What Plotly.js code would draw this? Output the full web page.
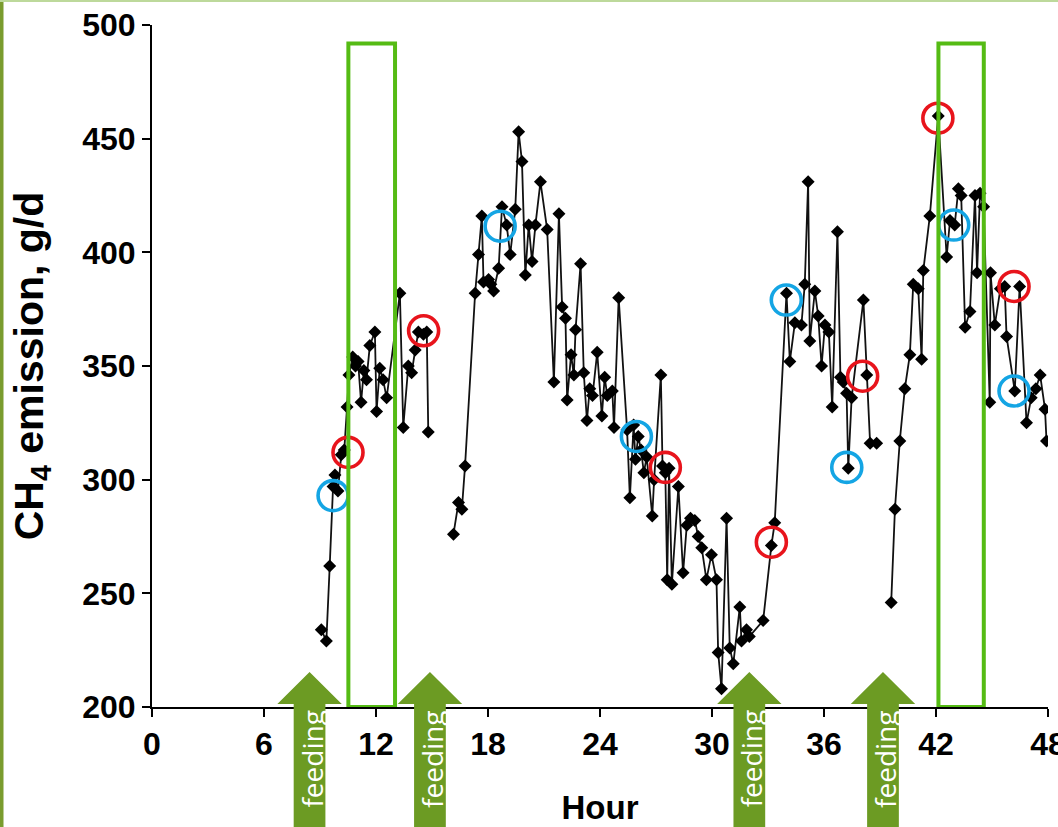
<!DOCTYPE html>
<html>
<head>
<meta charset="utf-8">
<script src="https://cdn.plot.ly/plotly-3.0.1.min.js"></script>
<style>html,body{margin:0;padding:0;background:#fff;}#chart{width:1058px;height:827px;}</style>
</head>
<body>
<div id="chart"></div>
<script>
// ---- data ----
const hours = [
  9.07, 9.34, 9.52, 9.70, 9.80, 9.96, 10.14, 10.30, 10.45, 10.55, 10.75, 10.90, 11.04, 11.20, 11.35, 11.49, 11.67, 11.94, 12.03, 12.20, 12.38, 12.57,
  13.28, 13.46, 13.73, 13.91, 14.10, 14.27, 14.54, 14.72, 14.80, null,
  16.15, 16.42, 16.60, 16.77, 17.31, 17.49, 17.67, 17.76, 18.03, 18.15, 18.30, 18.57, 18.75, 19.00, 19.19, 19.46, 19.64, 19.82,
  20.00, 20.18, 20.36, 20.54, 20.81, 21.17, 21.53, 21.80, 21.97, 22.15, 22.24, 22.45, 22.60, 22.69, 22.96, 23.13, 23.30, 23.45,
  23.60, 23.85, 24.10, 24.25, 24.39, 24.66, 24.75, 25.00, 25.45, 25.60, 25.80, 25.90, 26.05, 26.20, 26.35, 26.50, 26.80, 26.90,
  27.26, 27.35, 27.50, 27.60, 27.70, 27.85, 28.20, 28.45, 28.65, 28.85, 29.08, 29.26, 29.45, 29.70, 29.97, 30.24, 30.33, 30.51,
  30.78, 30.95, 31.14, 31.49, 31.58, 31.85, 32.00, 32.74, 33.18, 33.36, 33.99, 34.17, 34.44, 34.79, 34.97, 35.15, 35.24, 35.51,
  35.69, 35.87, 36.05, 36.26, 36.44, 36.72, 36.88, 37.03, 37.21, 37.30, 37.48, 38.11, 38.29, 38.47, 38.82, null,
  39.60, 39.80, 40.06, 40.33, 40.60, 40.78, 41.05, 41.23, 41.32, 41.67, 42.12, 42.57, 42.75, 43.00, 43.20, 43.35, 43.56, 43.82,
  44.09, 44.20, 44.36, 44.55, 44.88, 44.92, 45.15, 45.45, 45.68, 45.78, 46.22, 46.48, 46.85, 47.10, 47.35, 47.58, 47.84, 47.92
];
const ch4 = [
  234, 229, 262, 297, 302, 295, 311, 313, 332, 346, 354, 350, 352, 334, 348, 344, 359, 365, 330, 349, 344, 336,
  382, 323, 350, 347, 357, 365, 364, 365, 321, null,
  276, 290, 287, 306, 382, 399, 416, 387, 388, 386, 383, 393, 420, 412, 399, 419, 453, 440,
  390, 412, 396, 412, 431, 410, 343, 417, 376, 371, 335, 355, 346, 366, 395, 347, 326, 340,
  337, 356, 328, 345, 337, 339, 323, 380, 322, 292, 324, 309, 319, 313, 303, 310, 284, 300,
  346, 306, 303, 256, 305, 254, 297, 259, 280, 283, 282, 275, 270, 256, 267, 256, 224, 208,
  283, 226, 219, 244, 229, 234, 231, 238, 271, 281, 382, 352, 369, 368, 386, 431, 361, 383,
  372, 350, 368, 365, 332, 409, 345, 343, 338, 305, 336, 379, 346, 316, 316, null,
  246, 287, 317, 340, 355, 386, 384, 353, 392, 416, 460, 398, 414, 412, 428, 425, 367, 374,
  425, 391, 426, 420, 334, 391, 368, 384, 385, 363, 339, 385, 325, 336, 340, 346, 331, 317
];
const redHours  = [10.50, 14.55, 27.50, 33.18, 38.07, 42.10, 46.18];
const redValues = [312, 365.5, 305.4, 272.5, 345.5, 459, 385];
const blueHours  = [9.70, 18.65, 25.95, 33.98, 37.22, 42.95, 46.18];
const blueValues = [293, 411.5, 319, 379, 305.4, 412, 339];
const boxStart = [10.52, 42.13];
const boxEnd   = [13.02, 44.56];
const boxTop   = 491.9;
const feedingHours = [8.44, 14.89, 32.00, 39.16];
const feedingLabel = "feeding";
const xTicks = [0, 6, 12, 18, 24, 30, 36, 42, 48];
const yTicks = [200, 250, 300, 350, 400, 450, 500];

// ---- styling ----
const FONT = "Liberation Sans, Arial, sans-serif";
const OLIVE = "#6c9b23";
const BOXGREEN = "#55bb14";
const W = 1058, H = 827, ML = 152, MR = 10, MT = 25, MB = 120;
const plotW = W - ML - MR, plotH = H - MT - MB;
const px2paperX = p => (p - ML) / plotW;
const px2paperY = p => (H - MB - p) / plotH;

const traces = [
  {
    x: hours, y: ch4, type: "scatter", mode: "lines+markers", connectgaps: false,
    line: {color: "#111", width: 1.8},
    marker: {symbol: "diamond", size: 10, color: "#000"},
    hoverinfo: "x+y", showlegend: false
  },
  {
    x: redHours, y: redValues, type: "scatter", mode: "markers",
    marker: {symbol: "circle-open", size: 30, color: "#e8141c", line: {width: 3.6, color: "#e8141c"}},
    showlegend: false
  },
  {
    x: blueHours, y: blueValues, type: "scatter", mode: "markers",
    marker: {symbol: "circle-open", size: 30, color: "#14a5e4", line: {width: 3.6, color: "#14a5e4"}},
    showlegend: false
  }
];

const shapes = [];
boxStart.forEach((s, i) => {
  shapes.push({type: "rect", xref: "x", yref: "y", x0: s, x1: boxEnd[i], y0: 200, y1: boxTop,
    line: {color: BOXGREEN, width: 4}, fillcolor: "rgba(0,0,0,0)", layer: "above"});
});
const shaftHalf = 0.85, headHalf = 1.725;
const yApex = px2paperY(672), yBase = px2paperY(704), yBottom = px2paperY(835);
const annotations = [];
feedingHours.forEach(c => {
  const path = `M ${c - shaftHalf},${yBottom} L ${c - shaftHalf},${yBase} L ${c - headHalf},${yBase} L ${c},${yApex} ` +
               `L ${c + headHalf},${yBase} L ${c + shaftHalf},${yBase} L ${c + shaftHalf},${yBottom} Z`;
  shapes.push({type: "path", xref: "x", yref: "paper", path: path, fillcolor: OLIVE, line: {width: 0}, layer: "above"});
  annotations.push({xref: "x", yref: "paper", x: c, y: px2paperY(759), xanchor: "center", yanchor: "middle",
    xshift: 2, text: feedingLabel, textangle: -90, showarrow: false,
    font: {family: "Open Sans, Liberation Sans, sans-serif", size: 28, color: "#ffffff"}});
});
// frame decorations of the picture
shapes.push({type: "rect", xref: "paper", yref: "paper", x0: px2paperX(0), x1: px2paperX(3.5),
  y0: px2paperY(H + 5), y1: px2paperY(-5), fillcolor: "#7a9c2e", line: {width: 0}, layer: "above"});
shapes.push({type: "line", xref: "paper", yref: "paper", x0: px2paperX(0), x1: px2paperX(W + 5),
  y0: px2paperY(1), y1: px2paperY(1), line: {color: "#bdd99b", width: 2}, layer: "above"});

const layout = {
  width: W, height: H,
  margin: {l: ML, r: MR, t: MT, b: MB, pad: 0},
  paper_bgcolor: "#fff", plot_bgcolor: "#fff",
  showlegend: false,
  xaxis: {
    range: [0, 48], tickvals: xTicks, ticktext: xTicks.map(String),
    showgrid: false, zeroline: false, showline: true, linecolor: "#000", linewidth: 2,
    ticks: "outside", ticklen: 8, tickwidth: 2, tickcolor: "#000",
    ticklabelstandoff: 0, ticklabeloverflow: "allow",
    tickfont: {family: FONT, size: 32, color: "#000", weight: "bold"},
    title: {text: "Hour", font: {family: FONT, size: 33, color: "#000", weight: "bold"}, standoff: 34},
    automargin: false, fixedrange: true
  },
  yaxis: {
    range: [200, 500], tickvals: yTicks, ticktext: yTicks.map(String),
    showgrid: false, zeroline: false, showline: true, linecolor: "#000", linewidth: 2,
    ticks: "outside", ticklen: 8, tickwidth: 2, tickcolor: "#000",
    tickfont: {family: FONT, size: 32, color: "#000", weight: "bold"},
    title: {text: "CH<sub>4</sub> emission, g/d", font: {family: FONT, size: 41, color: "#000", weight: "bold"}, standoff: 26},
    automargin: false, fixedrange: true
  },
  shapes: shapes,
  annotations: annotations
};

Plotly.newPlot("chart", traces, layout, {displayModeBar: false, staticPlot: true});
</script>
</body>
</html>
